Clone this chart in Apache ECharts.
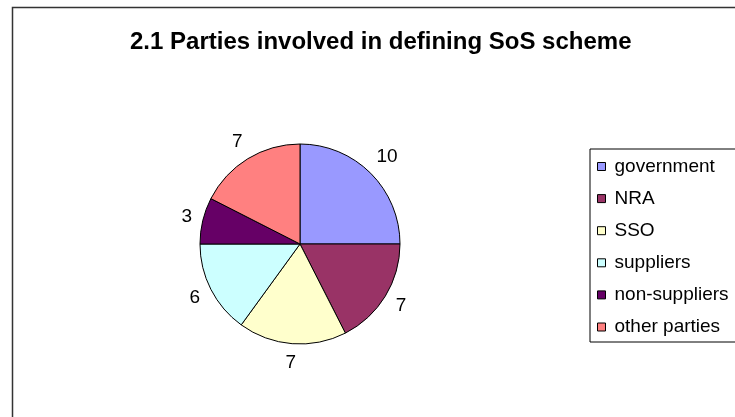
<!DOCTYPE html>
<html>
<head>
<meta charset="utf-8">
<style>
  html, body { margin: 0; padding: 0; background: #fff; }
  #chart { width: 735px; height: 417px; }
</style>
<script src="https://cdn.jsdelivr.net/npm/echarts@6/dist/echarts.min.js"></script>
</head>
<body>
<div id="chart"></div>
<script>
// Who took part in defining the security-of-supply scheme (number of answers)
const categories = ['government', 'NRA', 'SSO', 'suppliers', 'non-suppliers', 'other parties'];
const counts = [10, 7, 7, 6, 3, 7];
const sliceColors = ['#9999FF', '#993366', '#FFFFCC', '#CCFFFF', '#660066', '#FF8080'];

const titleText = '2.1 Parties involved in defining SoS scheme';

const PIE_CENTER = [300, 244];
const PIE_RADIUS = 100;
const LABEL_GAP = 9;

const pieData = categories.map((name, i) => ({
  name: name,
  value: counts[i],
  itemStyle: { color: sliceColors[i] }
}));

// Same values on an invisible outer ring, used only to place the value labels
const labelRingData = categories.map((name, i) => ({
  name: name,
  value: counts[i]
}));

// Push each value label out along its slice direction so that the
// label box sits just outside the rim of the pie.
function placeOutside(params) {
  const r = params.labelRect;
  const lx = r.x + r.width / 2;
  const ly = r.y + r.height / 2;
  const dx = lx - PIE_CENTER[0];
  const dy = ly - PIE_CENTER[1];
  const len = Math.sqrt(dx * dx + dy * dy) || 1;
  const ux = dx / len, uy = dy / len;
  const dist = PIE_RADIUS + LABEL_GAP + Math.abs(ux) * r.width / 2 + Math.abs(uy) * r.height / 2;
  return {
    x: PIE_CENTER[0] + ux * dist,
    y: PIE_CENTER[1] + uy * dist,
    align: 'center',
    verticalAlign: 'middle'
  };
}

const chart = echarts.init(document.getElementById('chart'), null, { renderer: 'canvas' });

chart.setOption({
  backgroundColor: '#ffffff',
  animation: false,
  title: {
    text: titleText,
    left: 130,
    top: 30,
    padding: 0,
    textStyle: {
      fontFamily: 'Liberation Sans, Arial, sans-serif',
      fontSize: 24,
      lineHeight: 24,
      fontWeight: 'bold',
      color: '#000'
    }
  },
  legend: {
    orient: 'vertical',
    left: 590,
    top: 149,
    padding: [8, 30, 5.5, 7],
    itemGap: 13.1,
    itemWidth: 8,
    itemHeight: 8,
    icon: 'rect',
    borderColor: '#000',
    borderWidth: 1,
    borderRadius: 0,
    selectedMode: false,
    data: categories,
    itemStyle: { borderColor: '#000', borderWidth: 1 },
    textStyle: {
      fontFamily: 'Liberation Sans, Arial, sans-serif',
      fontSize: 19,
      lineHeight: 19,
      color: '#000',
      padding: [0, 0, 0, 4]
    }
  },
  graphic: [{
    type: 'rect',
    silent: true,
    z: -1,
    shape: { x: 12.5, y: 7.5, width: 900, height: 600 },
    style: { fill: 'none', stroke: '#333', lineWidth: 1.5 }
  }],
  series: [
    {
      name: 'parties',
      type: 'pie',
      center: PIE_CENTER,
      radius: PIE_RADIUS,
      startAngle: 90,
      clockwise: true,
      silent: true,
      label: { show: false },
      labelLine: { show: false },
      itemStyle: { borderColor: '#000', borderWidth: 1 },
      data: pieData
    },
    {
      name: 'values',
      type: 'pie',
      center: PIE_CENTER,
      radius: [PIE_RADIUS, PIE_RADIUS + 34],
      startAngle: 90,
      clockwise: true,
      silent: true,
      legendHoverLink: false,
      itemStyle: { color: 'rgba(0,0,0,0)', borderWidth: 0 },
      label: {
        show: true,
        position: 'inside',
        formatter: '{c}',
        fontFamily: 'Liberation Sans, Arial, sans-serif',
        fontSize: 19,
        lineHeight: 19,
        color: '#000'
      },
      labelLine: { show: false },
      labelLayout: placeOutside,
      data: labelRingData
    }
  ]
});
</script>
</body>
</html>
